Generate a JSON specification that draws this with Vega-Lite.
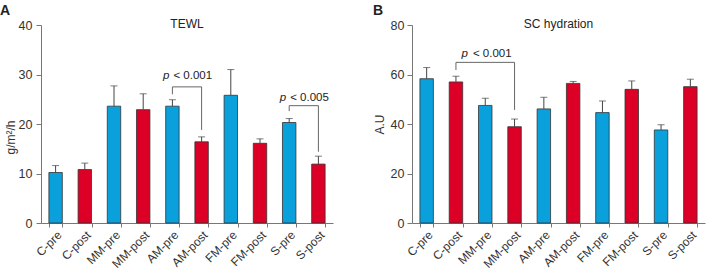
{
  "$schema": "https://vega.github.io/schema/vega-lite/v6.json",
  "padding": {"left": 0, "top": 4, "right": 2, "bottom": 2},
  "spacing": 40,
  "datasets": {
    "tewl": [
      {"group": "C-pre", "phase": "pre", "value": 10.2, "upper": 11.6},
      {"group": "C-post", "phase": "post", "value": 10.8, "upper": 12.1},
      {"group": "MM-pre", "phase": "pre", "value": 23.6, "upper": 27.7},
      {"group": "MM-post", "phase": "post", "value": 22.9, "upper": 26.1},
      {"group": "AM-pre", "phase": "pre", "value": 23.6, "upper": 24.9},
      {"group": "AM-post", "phase": "post", "value": 16.4, "upper": 17.4},
      {"group": "FM-pre", "phase": "pre", "value": 25.8, "upper": 31.0},
      {"group": "FM-post", "phase": "post", "value": 16.1, "upper": 17.0},
      {"group": "S-pre", "phase": "pre", "value": 20.3, "upper": 21.1},
      {"group": "S-post", "phase": "post", "value": 11.9, "upper": 13.5}
    ],
    "sch": [
      {"group": "C-pre", "phase": "pre", "value": 58.3, "upper": 62.8},
      {"group": "C-post", "phase": "post", "value": 57.0, "upper": 59.3},
      {"group": "MM-pre", "phase": "pre", "value": 47.5, "upper": 50.4},
      {"group": "MM-post", "phase": "post", "value": 38.9, "upper": 42.0},
      {"group": "AM-pre", "phase": "pre", "value": 46.1, "upper": 50.8},
      {"group": "AM-post", "phase": "post", "value": 56.4, "upper": 57.2},
      {"group": "FM-pre", "phase": "pre", "value": 44.6, "upper": 49.3},
      {"group": "FM-post", "phase": "post", "value": 54.0, "upper": 57.4},
      {"group": "S-pre", "phase": "pre", "value": 37.6, "upper": 39.7},
      {"group": "S-post", "phase": "post", "value": 55.1, "upper": 58.1}
    ],
    "bracketA": [
      {"a": "AM-pre", "b": "AM-post", "top": 27.5},
      {"a": "S-pre", "b": "S-post", "top": 23.7}
    ],
    "legA": [
      {"g": "AM-pre", "top": 27.5, "bottom": 26.0},
      {"g": "AM-post", "top": 27.5, "bottom": 18.8},
      {"g": "S-pre", "top": 23.7, "bottom": 22.6},
      {"g": "S-post", "top": 23.7, "bottom": 14.4}
    ],
    "labA": [
      {"g": "AM-pre", "y": 29.0, "p": "p", "rest": "< 0.001"},
      {"g": "S-pre", "y": 24.7, "p": "p", "rest": "< 0.005"}
    ],
    "bracketB": [
      {"a": "C-post", "b": "MM-post", "top": 64.9}
    ],
    "legB": [
      {"g": "C-post", "top": 64.9, "bottom": 61.8},
      {"g": "MM-post", "top": 64.9, "bottom": 45.7}
    ],
    "labB": [
      {"g": "C-post", "y": 66.9, "p": "p", "rest": "< 0.001"}
    ]
  },
  "hconcat": [
    {
      "title": {"text": "A", "anchor": "start", "frame": "bounds", "fontSize": 14, "fontWeight": "bold", "offset": 0, "dx": -4},
      "hconcat": [
        {
          "width": 292,
          "height": 198,
          "title": {"text": "TEWL", "anchor": "middle", "frame": "group", "fontSize": 12, "fontWeight": "normal", "baseline": "alphabetic", "offset": -21},
          "layer": [
            {
              "data": {"name": "tewl"},
              "mark": {"type": "bar", "stroke": "#333333", "strokeWidth": 0.8},
              "encoding": {
                "x": {"field": "group", "type": "nominal", "sort": null,
                  "scale": {"paddingInner": 0.54, "paddingOuter": 0.27},
                  "axis": {"title": null, "labelAngle": -45, "labelFontSize": 12, "tickBand": "extent", "tickSize": 4, "labelPadding": 2}},
                "y": {"field": "value", "type": "quantitative",
                  "scale": {"domain": [0, 40]},
                  "axis": {"title": "g/m²/h", "values": [0, 10, 20, 30, 40], "grid": false, "tickSize": 5, "labelPadding": 4, "labelFontSize": 12.5, "titleFontSize": 12, "titleFontWeight": "normal", "titlePadding": 1, "titleY": 112}},
                "color": {"field": "phase", "type": "nominal", "scale": {"domain": ["pre", "post"], "range": ["#0aa0dc", "#dc0026"]}, "legend": null}
              }
            },
            {
              "data": {"name": "tewl"},
              "mark": {"type": "rule", "color": "#444444", "strokeWidth": 1},
              "encoding": {
                "x": {"field": "group", "type": "nominal", "sort": null},
                "y": {"field": "value", "type": "quantitative"},
                "y2": {"field": "upper"}
              }
            },
            {
              "data": {"name": "tewl"},
              "mark": {"type": "tick", "color": "#444444", "thickness": 1, "size": 7, "orient": "horizontal"},
              "encoding": {
                "x": {"field": "group", "type": "nominal", "sort": null},
                "y": {"field": "upper", "type": "quantitative"}
              }
            },
            {
              "data": {"name": "bracketA"},
              "mark": {"type": "rule", "color": "#666666", "strokeWidth": 1},
              "encoding": {
                "x": {"field": "a", "type": "nominal", "sort": null},
                "x2": {"field": "b"},
                "y": {"field": "top", "type": "quantitative"}
              }
            },
            {
              "data": {"name": "legA"},
              "mark": {"type": "rule", "color": "#666666", "strokeWidth": 1},
              "encoding": {
                "x": {"field": "g", "type": "nominal", "sort": null},
                "y": {"field": "top", "type": "quantitative"},
                "y2": {"field": "bottom"}
              }
            },
            {
              "data": {"name": "labA"},
              "mark": {"type": "text", "fontStyle": "italic", "fontSize": 11.5, "align": "right", "baseline": "alphabetic", "dx": -3, "color": "#222222"},
              "encoding": {
                "x": {"field": "g", "type": "nominal", "sort": null},
                "y": {"field": "y", "type": "quantitative"},
                "text": {"field": "p"}
              }
            },
            {
              "data": {"name": "labA"},
              "mark": {"type": "text", "fontSize": 11.5, "align": "left", "baseline": "alphabetic", "dx": 1, "color": "#222222"},
              "encoding": {
                "x": {"field": "g", "type": "nominal", "sort": null},
                "y": {"field": "y", "type": "quantitative"},
                "text": {"field": "rest"}
              }
            }
          ]
        }
      ]
    },
    {
      "title": {"text": "B", "anchor": "start", "frame": "bounds", "fontSize": 14, "fontWeight": "bold", "offset": 0},
      "hconcat": [
        {
          "width": 293,
          "height": 198,
          "title": {"text": "SC hydration", "anchor": "middle", "frame": "group", "fontSize": 12, "fontWeight": "normal", "baseline": "alphabetic", "offset": -21},
          "layer": [
            {
              "data": {"name": "sch"},
              "mark": {"type": "bar", "stroke": "#333333", "strokeWidth": 0.8},
              "encoding": {
                "x": {"field": "group", "type": "nominal", "sort": null,
                  "scale": {"paddingInner": 0.54, "paddingOuter": 0.27},
                  "axis": {"title": null, "labelAngle": -45, "labelFontSize": 12, "tickBand": "extent", "tickSize": 4, "labelPadding": 2}},
                "y": {"field": "value", "type": "quantitative",
                  "scale": {"domain": [0, 80]},
                  "axis": {"title": "A.U", "values": [0, 20, 40, 60, 80], "grid": false, "tickSize": 5, "labelPadding": 3, "labelFontSize": 12.5, "titleFontSize": 12, "titleFontWeight": "normal", "titlePadding": 4}},
                "color": {"field": "phase", "type": "nominal", "scale": {"domain": ["pre", "post"], "range": ["#0aa0dc", "#dc0026"]}, "legend": null}
              }
            },
            {
              "data": {"name": "sch"},
              "mark": {"type": "rule", "color": "#444444", "strokeWidth": 1},
              "encoding": {
                "x": {"field": "group", "type": "nominal", "sort": null},
                "y": {"field": "value", "type": "quantitative"},
                "y2": {"field": "upper"}
              }
            },
            {
              "data": {"name": "sch"},
              "mark": {"type": "tick", "color": "#444444", "thickness": 1, "size": 7, "orient": "horizontal"},
              "encoding": {
                "x": {"field": "group", "type": "nominal", "sort": null},
                "y": {"field": "upper", "type": "quantitative"}
              }
            },
            {
              "data": {"name": "bracketB"},
              "mark": {"type": "rule", "color": "#666666", "strokeWidth": 1},
              "encoding": {
                "x": {"field": "a", "type": "nominal", "sort": null},
                "x2": {"field": "b"},
                "y": {"field": "top", "type": "quantitative"}
              }
            },
            {
              "data": {"name": "legB"},
              "mark": {"type": "rule", "color": "#666666", "strokeWidth": 1},
              "encoding": {
                "x": {"field": "g", "type": "nominal", "sort": null},
                "y": {"field": "top", "type": "quantitative"},
                "y2": {"field": "bottom"}
              }
            },
            {
              "data": {"name": "labB"},
              "mark": {"type": "text", "fontStyle": "italic", "fontSize": 11.5, "align": "right", "baseline": "alphabetic", "dx": 12, "color": "#222222"},
              "encoding": {
                "x": {"field": "g", "type": "nominal", "sort": null},
                "y": {"field": "y", "type": "quantitative"},
                "text": {"field": "p"}
              }
            },
            {
              "data": {"name": "labB"},
              "mark": {"type": "text", "fontSize": 11.5, "align": "left", "baseline": "alphabetic", "dx": 17, "color": "#222222"},
              "encoding": {
                "x": {"field": "g", "type": "nominal", "sort": null},
                "y": {"field": "y", "type": "quantitative"},
                "text": {"field": "rest"}
              }
            }
          ]
        }
      ]
    }
  ],
  "config": {
    "font": "Liberation Sans",
    "view": {"stroke": null},
    "axis": {"domainColor": "#777777", "tickColor": "#777777", "labelColor": "#333333", "titleColor": "#333333", "labelFont": "Liberation Sans", "titleFont": "Liberation Sans"},
    "title": {"color": "#222222", "font": "Liberation Sans"},
    "concat": {"spacing": 40}
  }
}
